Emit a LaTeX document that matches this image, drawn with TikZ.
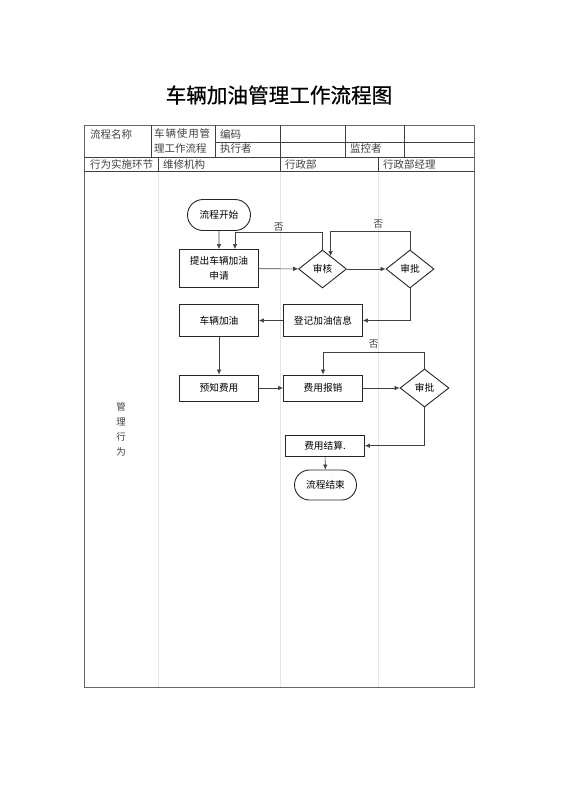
\documentclass[tikz,border=0pt]{standalone}
\usepackage{fontspec}
\setmainfont{Noto Sans CJK SC}
\newfontfamily\titlefont[FakeBold=0.6]{Noto Sans CJK SC}
\usetikzlibrary{arrows.meta, positioning, shapes.geometric, shapes.misc}

\begin{document}
\begin{tikzpicture}[x=1pt, y=-1pt,
    box/.style={draw=black!85, line width=0.9pt, minimum width=79pt, align=center, inner sep=1pt, font=\fontsize{9.7}{15}\selectfont},
    term/.style={draw=black!85, line width=0.9pt, rounded rectangle, minimum width=65pt, minimum height=31pt, inner sep=1pt, font=\fontsize{9.7}{12}\selectfont},
    check/.style={draw=black!85, line width=0.9pt, diamond, inner sep=0pt, minimum width=48pt, minimum height=38pt, font=\fontsize{9.7}{12}\selectfont},
    flow/.style={-{Latex[length=5pt, width=4.5pt]}, black!75, line width=0.6pt},
    grid/.style={black!75, line width=0.5pt},
    lane/.style={black!10, line width=0.5pt},
    cell/.style={anchor=west, inner sep=0pt, text=black!75, font=\fontsize{10.5}{12}\selectfont},
    note/.style={font=\fontsize{9.7}{12}\selectfont}
]
\useasboundingbox (0,0) rectangle (560,792);

% Title
\node[font=\titlefont\fontsize{20.6}{24}\selectfont] (title) at (279,95) {车辆加油管理工作流程图};

% Header table
\draw[black!60, line width=0.9pt] (84,125) rectangle (474,687);
\draw[grid] (215,142) -- (474,142);
\draw[grid] (84,157) -- (474,157);
\draw[grid] (84,171.7) -- (474,171.7);
\foreach \x in {151,215,280,345,404} {
    \draw[grid] (\x,125) -- (\x,157);
}
\foreach \x in {158,280,378} {
    \draw[grid] (\x,157) -- (\x,171.7);
    \draw[lane] (\x,171.7) -- (\x,687);
}

\node[cell] (procname) at (90,134) {流程名称};
\node[cell] (procval1) at (154,134) {\makebox[56pt][l]{车\hfill 辆\hfill 使\hfill 用\hfill 管}};
\node[cell] (procval2) at (154,148.5) {理工作流程};
\node[cell] (code) at (220,134) {编码};
\node[cell] (runner) at (220,148.5) {执行者};
\node[cell] (monitor) at (350,148.5) {监控者};
\node[cell] (stage) at (90,164.3) {行为实施环节};
\node[cell] (repair) at (163,164.3) {维修机构};
\node[cell] (admin) at (285,164.3) {行政部};
\node[cell] (manager) at (383,164.3) {行政部经理};

% Row label
\node[note, align=center, text=black!75, font=\fontsize{9.5}{15}\selectfont] (rowlabel) at (121,429) {管\\理\\行\\为};

% Flow nodes
\node[term] (start) at (219,215) {流程开始};
\node[box, minimum height=38pt] (apply) at (219,268.5) {提出车辆加油\\申请};
\node[check] (audit) at (322.5,269) {审核};
\node[check] (approve) at (410,269) {审批};
\node[box, minimum height=32pt] (refuel) at (219,320.5) {车辆加油};
\node[box, minimum height=32pt] (record) at (323,320.5) {登记加油信息};
\node[box, minimum height=26pt] (notify) at (219,388) {预知费用};
\node[box, minimum height=26pt] (claim) at (323,388) {费用报销};
\node[check, minimum width=49pt] (approvetwo) at (424.5,388) {审批};
\node[box, minimum height=21pt] (settle) at (325,445.7) {费用结算.};
\node[term, minimum width=64pt, minimum height=30pt] (finish) at (325.5,485) {流程结束};

% Connectors
\draw[flow] (start) -- (apply);
\draw[flow] (apply) -- (audit);
\draw[flow] (audit) -- (approve);
\draw[flow] (audit.north) -- ++(0,-17.3) -| node[note, pos=0.25, above=-3pt] {否} ([xshift=16pt]apply.north);
\draw[flow] (approve.north) -- ++(0,-18) -| node[note, pos=0.2, above=0pt] {否} (audit.58);
\draw[flow] (approve.south) |- (record.east);
\draw[flow] (record) -- (refuel);
\draw[flow] (refuel) -- (notify);
\draw[flow] (notify) -- (claim);
\draw[flow] (claim) -- (approvetwo);
\draw[flow] (approvetwo.north) -- ++(0,-16.7) -| node[note, pos=0.25, above=0pt] {否} (claim.north);
\draw[flow] (approvetwo.south) |- (settle.east);
\draw[flow] (settle) -- (finish);

\end{tikzpicture}
\end{document}
